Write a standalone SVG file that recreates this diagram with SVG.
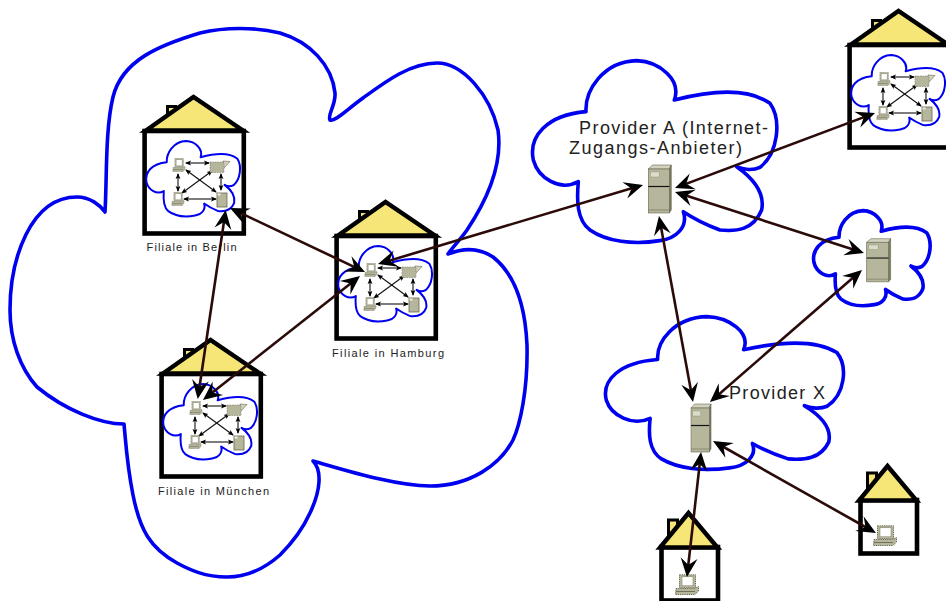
<svg xmlns="http://www.w3.org/2000/svg" width="946" height="601" viewBox="0 0 946 601">
<style>
.bg{fill:#fff}
#cloudshape{vector-effect:non-scaling-stroke}
.cloud{fill:none;stroke:#0000f0;stroke-width:3.6;stroke-linejoin:round;vector-effect:non-scaling-stroke}
.mini{fill:none;stroke:#0000f0;stroke-width:2;stroke-linejoin:round}
.wall{fill:#fff;stroke:#000;stroke-width:4.6}
.roof{fill:#f5e677;stroke:#000;stroke-width:4.4;stroke-linejoin:miter;stroke-miterlimit:5}
.chim{fill:#f5e677;stroke:#000;stroke-width:3}
.link{fill:none;stroke:#2b0a0a;stroke-width:2.6;marker-start:url(#big);marker-end:url(#big)}
.minilink{fill:none;stroke:#111;stroke-width:1.1;marker-start:url(#small);marker-end:url(#small)}
.lab{font-family:"Liberation Sans",Arial,sans-serif;fill:#222}
.s{font-size:11px}
.l{font-size:18px}
.m{fill:#b6b69c;stroke:#66664f;stroke-width:.6}
.mt{fill:#d2d2bf;stroke:#66664f;stroke-width:.6}
.md{fill:#7b7b63;stroke:#66664f;stroke-width:.6}
.dot{fill:#b6b69c;stroke:#55553f;stroke-width:.9;stroke-dasharray:1.2 1}
.dotf{fill:#b6b69c;stroke:#66664f;stroke-width:.5;stroke-dasharray:1.5 1}
</style>
<defs>
<marker id="big" markerUnits="userSpaceOnUse" markerWidth="24" markerHeight="24" viewBox="0 0 24 24" refX="16" refY="12" orient="auto-start-reverse"><path d="M20 12L1 3.5L8 12L1 20.5Z" fill="#000"/></marker>
<marker id="small" markerUnits="userSpaceOnUse" markerWidth="7" markerHeight="6" viewBox="0 0 7 6" refX="5" refY="3" orient="auto-start-reverse"><path d="M6 3L0 .6L1.3 3L0 5.4Z" fill="#000"/></marker>
<path id="cloudshape" d="M198 185C195 120 250 35 350 32C420 35 485 90 463 150C560 125 680 110 750 160C785 210 775 310 720 352C700 362 670 360 650 350C700 385 735 430 725 480C700 540 650 545 600 540C560 525 520 505 490 485C505 530 470 565 420 572C340 585 260 575 210 540C170 510 170 450 175 395C120 425 55 385 40 330C25 260 80 195 198 185Z"/>
<g id="pc">
<rect class="dot" x="4.5" y=".8" width="16" height="13"/>
<rect x="7" y="2.8" width="11" height="9" fill="#fff" stroke="#77775f" stroke-width=".5"/>
<path class="dot" d="M1 14.5H19L23.5 12.5V17L20 20.5H.5Z"/>
<path d="M1 17.5H20" stroke="#55553f" stroke-width=".7"/>
</g>
<g id="server">
<path class="mt" d="M0 4L4 0H23L21 4Z"/>
<path class="md" d="M21 4L23 0V45L21 48Z"/>
<rect class="m" x="0" y="4" width="21" height="44"/>
<rect x="2" y="7" width="9" height="5" fill="#dcdccb" stroke="#8b8b72" stroke-width=".4"/>
<path d="M0 21.5H21" stroke="#111" stroke-width="1.2"/>
<path d="M0 45H21" stroke="#77775f" stroke-width=".7"/>
</g>
<g id="net">
<use href="#cloudshape" class="mini" transform="matrix(.128 0 0 .138 141.4 136.6)"/>
<path class="minilink" d="M186 163H209"/>
<path class="minilink" d="M178 174V191"/>
<path class="minilink" d="M221 174V190"/>
<path class="minilink" d="M184 199H216"/>
<path class="minilink" d="M186 170L216 192"/>
<path class="minilink" d="M212 171L182 193"/>
<use href="#pc" transform="translate(172.5 158) scale(.53 .66)"/>
<use href="#pc" transform="translate(171.5 192) scale(.53 .66)"/>
<g>
<path class="mt" d="M223 161L230 161.5L224 168L223 168Z"/>
<rect class="dotf" x="210" y="162" width="14" height="10.5"/>
</g>
<g>
<rect x="217" y="193" width="10" height="14" fill="#b6b69c" stroke="#66664f" stroke-width=".8"/>
<rect x="217.5" y="193.5" width="3" height="2" fill="#eeeee2"/>
</g>
</g>
<g id="house">
<rect class="chim" x="167.5" y="106.5" width="8" height="14"/>
<rect class="wall" x="144.6" y="131" width="99.2" height="102.5"/>
<path class="roof" d="M146 130.5H243L193.5 97Z"/>
<use href="#net"/>
</g>
<g id="smallhouse">
<rect class="chim" x="867.5" y="473" width="9" height="16"/>
<rect class="wall" x="860.5" y="500" width="56.5" height="53.5"/>
<path class="roof" d="M859 500.5H916.5L887.5 466Z"/>
</g>
</defs>

<rect class="bg" width="946" height="601"/>

<g id="cloud-company"><path class="cloud" d="M105 212C107 180 105 130 113 97C122 60 160 45 200 33C225 27 255 27 280 33C310 42 332 65 335 93C336 105 327 115 330 120C335 122 345 111 363 98C385 82 410 63 437 63C463 63 490 95 498 130C503 165 487 200 467 230C460 240 452 248 448 254C458 250 475 245 493 257C512 272 525 300 527 345C528 390 520 425 513 440C500 465 470 486 430 486C395 486 345 470 313 461C322 470 321 490 310 513C300 535 285 550 280 555C263 570 245 577 227 577C205 577 190 570 177 563C150 548 140 530 133 495C127 465 126 445 124 424C100 424 65 410 37 387C20 368 10 340 10 310C10 260 30 197 77 197C90 197 100 205 105 212Z"/></g>

<g id="berlin"><use href="#house"/><text class="lab s" x="146.5" y="251" textLength="90">Filiale in Berlin</text></g>
<g id="hamburg"><use href="#house" transform="translate(192 105)"/><text class="lab s" x="332" y="357" textLength="112">Filiale in Hamburg</text></g>
<g id="muenchen"><use href="#house" transform="translate(17 243)"/><text class="lab s" x="158" y="495" textLength="111">Filiale in München</text></g>
<g id="house-topright"><use href="#house" transform="translate(705 -86)"/></g>

<g id="provider-a"><use href="#cloudshape" class="cloud" transform="matrix(.3333 0 0 .3333 520 50)"/>
<text class="lab l" x="579" y="134" textLength="189">Provider A (Internet-</text>
<text class="lab l" x="569" y="154" textLength="173">Zugangs-Anbieter)</text>
<use href="#server" transform="translate(648.3 165)"/></g>

<g id="provider-x"><use href="#cloudshape" class="cloud" transform="matrix(.3247 0 0 .28 593.3 307.7)"/>
<text class="lab l" x="729" y="399" textLength="96">Provider X</text>
<use href="#server" transform="translate(691 404) scale(.87 1)"/></g>

<g id="provider-right"><use href="#cloudshape" class="cloud" transform="matrix(.159 0 0 .174 807.6 205.1)"/>
<use href="#server" transform="translate(866.7 238.7) scale(1.04 .9)"/></g>

<g id="house-right"><use href="#smallhouse"/><use href="#pc" transform="translate(873 525)"/></g>
<g id="house-bottom"><use href="#smallhouse" transform="translate(-199 47)"/><use href="#pc" transform="translate(675 574)"/></g>

<g id="connectors">
<path class="link" d="M233.6 209.7L361.4 270.3"/>
<path class="link" d="M225.1 214L198.3 395"/>
<path class="link" d="M206.1 397.5L356.9 278.5"/>
<path class="link" d="M381.8 262.9L639.2 186.1"/>
<path class="link" d="M678.7 186.6L871.3 114.4"/>
<path class="link" d="M678.8 193.2L860.2 251.8"/>
<path class="link" d="M659.7 219.9L692.3 398.1"/>
<path class="link" d="M713 399.4L859 272.6"/>
<path class="link" d="M700.6 456L687.4 573"/>
<path class="link" d="M716.5 443L872.5 531"/>
</g>
</svg>
